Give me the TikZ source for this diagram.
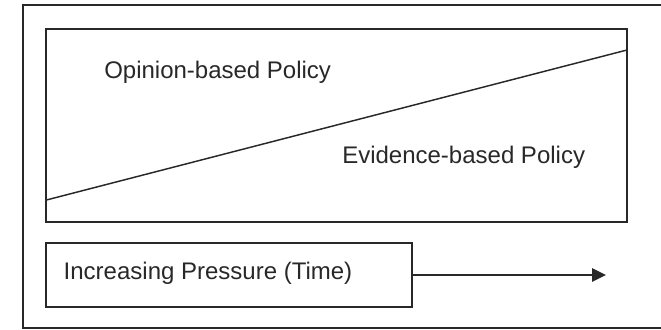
\documentclass[tikz,border=0pt]{standalone}
\usepackage{fontspec}
\setmainfont{Liberation Sans}
\usetikzlibrary{arrows.meta,positioning,calc}
\definecolor{inkgray}{RGB}{40,40,40}
\tikzset{
  panel/.style={draw=inkgray, line width=1.5pt, inner sep=0pt},
  lbl/.style={text=inkgray, inner sep=0pt, anchor=west,
              font=\fontsize{18}{20}\selectfont},
  slope/.style={inkgray, line width=1.1pt},
  timearr/.style={-{Triangle[length=10.5pt, width=10pt]}, inkgray, line width=1.5pt},
}

\begin{document}
\begin{tikzpicture}[x=0.75pt, y=-0.75pt]
  \useasboundingbox (0,0) rectangle (661,329);
  % frame, runs off on the right
  \draw[inkgray, line width=1.1pt] (661,5) -- (23,5) -- (23,328) -- (661,328);

  \node[panel, minimum width=435.5pt, minimum height=144.3pt] (policy) at (336.7,125.5) {};
  \coordinate (low) at (46.4,200);
  \coordinate (high) at (627,50);
  \draw[slope] (low) -- (high);
  \node[lbl] (opinion) at (104,72.7) {Opinion-based Policy};
  \node[lbl] (evidence) at (342,157.3) {Evidence-based Policy};

  \node[panel, minimum width=274.4pt, minimum height=48.5pt] (pressure) at (229.4,275) {};
  \node[lbl, right=13.5pt of pressure.west, yshift=1pt] (pressuretxt) {Increasing Pressure (Time)};
  \coordinate (tip) at (606,275);
  \draw[timearr] (pressure.east) -- (tip);
\end{tikzpicture}
\end{document}
